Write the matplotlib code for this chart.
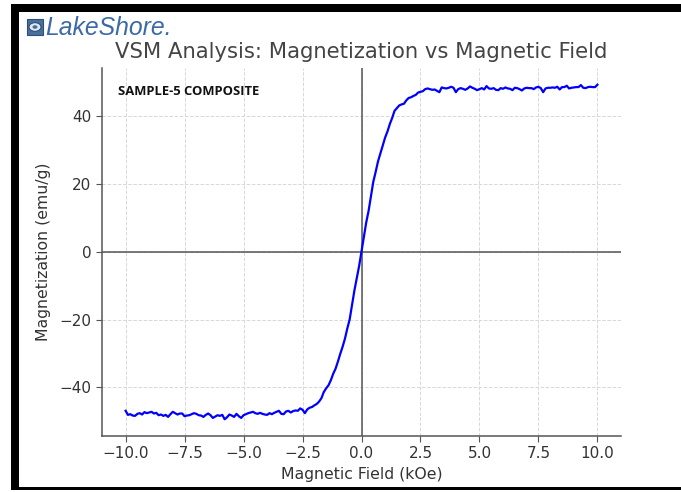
import numpy as np
import matplotlib
matplotlib.use("Agg")
import matplotlib.pyplot as plt
from matplotlib.patches import Rectangle, Circle

# ---------------- data ----------------
field_koe = np.linspace(-10.0, 10.0, 201)
magnetization_neg = [
    -46.9, -48.1, -47.9, -48.3, -48.4, -47.8, -47.6, -48.0, -47.3, -47.6,
    -47.4, -47.2, -47.7, -47.5, -48.2, -48.0, -48.4, -48.1, -48.7, -47.9,
    -47.2, -47.6, -48.0, -47.7, -47.7, -48.5, -48.3, -48.2, -47.9, -47.6,
    -47.8, -48.2, -48.3, -48.7, -48.1, -47.7, -48.2, -49.0, -48.6, -48.2,
    -48.4, -48.1, -49.4, -48.8, -48.0, -48.3, -48.7, -47.8, -48.5, -49.0,
    -48.2, -47.9, -47.6, -47.4, -47.2, -47.6, -47.8, -47.5, -47.8, -48.0,
    -48.1, -47.6, -47.9, -47.5, -47.2, -46.9, -47.8, -47.9, -47.1, -46.9,
    -47.4, -47.0, -46.8, -46.9, -46.2, -46.6, -47.6, -46.5, -46.0, -45.8,
    -45.3, -44.9, -44.2, -43.2, -41.4, -40.3, -39.4, -37.9, -36.0, -34.5,
    -32.4, -30.1, -28.0, -25.6, -22.6, -19.9, -15.6, -11.4, -7.8, -4.2,
    0.0,
]
magnetization_pos = [
    4.4, 8.6, 12.0, 16.4, 20.6, 23.5, 26.6, 28.9, 31.3, 33.6,
    35.4, 37.6, 39.4, 41.5, 42.3, 43.1, 43.4, 43.6, 44.6, 45.3,
    45.5, 45.9, 46.2, 46.9, 47.1, 47.3, 47.9, 48.1, 47.9, 47.7,
    47.8, 47.4, 47.0, 48.4, 48.2, 48.1, 48.3, 48.6, 48.3, 47.0,
    47.9, 48.2, 48.0, 47.7, 48.1, 48.7, 48.3, 48.0, 47.6, 47.9,
    48.2, 47.8, 48.8, 48.1, 48.0, 48.2, 47.7, 47.6, 48.2, 48.0,
    48.4, 48.1, 48.0, 47.6, 48.3, 48.2, 47.9, 47.5, 48.1, 48.3,
    48.2, 48.2, 47.9, 48.4, 48.6, 48.2, 47.0, 48.1, 48.3, 48.3,
    48.4, 48.3, 48.6, 47.8, 48.5, 48.5, 48.9, 48.1, 48.3, 48.4,
    48.5, 48.5, 49.1, 48.3, 48.2, 48.5, 48.6, 48.5, 48.5, 49.2,
]
magnetization = magnetization_neg + magnetization_pos

x_ticks = [-10.0, -7.5, -5.0, -2.5, 0.0, 2.5, 5.0, 7.5, 10.0]
y_ticks = [-40, -20, 0, 20, 40]

title = "VSM Analysis: Magnetization vs Magnetic Field"
x_label = "Magnetic Field (kOe)"
y_label = "Magnetization (emu/g)"
sample_label = "SAMPLE-5 COMPOSITE"
brand = "LakeShore."

# ---------------- figure ----------------
W, H = 681, 492
fig = plt.figure(figsize=(W / 100, H / 100), dpi=100)
fig.patch.set_facecolor("white")

ax = fig.add_axes([102 / W, 1 - 436 / H, (621 - 102) / W, (436 - 68) / H])
ax.plot(field_koe, magnetization, color="#0000ff", lw=1.6, zorder=3)
ax.axhline(0, color="#555555", lw=1.1, zorder=2)
ax.axvline(0, color="#555555", lw=1.1, zorder=2)

ax.set_xticks(x_ticks)
ax.set_yticks(y_ticks)
ax.grid(True, ls="--", color="#d8d8d8", lw=0.7)
ax.set_axisbelow(True)
for s in ("top", "right"):
    ax.spines[s].set_visible(False)
for s in ("left", "bottom"):
    ax.spines[s].set_color("#555555")
    ax.spines[s].set_linewidth(1.1)
ax.tick_params(colors="#555555", labelcolor="#333333", labelsize=11, length=4)

ax.set_xlabel(x_label, fontsize=11.3, color="#333333", labelpad=4)
ax.set_ylabel(y_label, fontsize=11.3, color="#333333", labelpad=6)
ax.set_title(title, fontsize=15.2, color="#444444", pad=7)

ax.text(0.03, 0.955, sample_label, transform=ax.transAxes, fontsize=9.4,
        fontweight="bold", family="Open Sans", color="#111111", va="top", ha="left")

# ---------------- logo ----------------
fig.text(45 / W, 1 - 35 / H, brand, fontsize=17.8, style="italic",
         family="Liberation Sans", color="#3b6aa5", va="baseline", ha="left")
icon = Rectangle((27 / W, 1 - 35 / H), 16 / W, 16 / H, transform=fig.transFigure,
                 facecolor="#4a6f9a", edgecolor="#2d4f7a", lw=0.8)
fig.add_artist(icon)
cx, cy = 35 / W, 1 - 27 / H
fig.add_artist(Circle((cx, cy), 6 / W, transform=fig.transFigure,
                      facecolor="#dfe8f2", edgecolor="#2d4f7a", lw=0.8))
fig.add_artist(Circle((cx, cy), 2.5 / W, transform=fig.transFigure,
                      facecolor="#4a6f9a", edgecolor="none"))

# ---------------- black frame ----------------
def bar(x0, y0, x1, y1):
    fig.add_artist(Rectangle((x0 / W, 1 - y1 / H), (x1 - x0) / W, (y1 - y0) / H,
                             transform=fig.transFigure, facecolor="black",
                             edgecolor="none"))

bar(11, 4, W, 12)
bar(11, 4, 19, 490)
bar(11, 487, W, 490)

fig.savefig("out.png", dpi=100)
